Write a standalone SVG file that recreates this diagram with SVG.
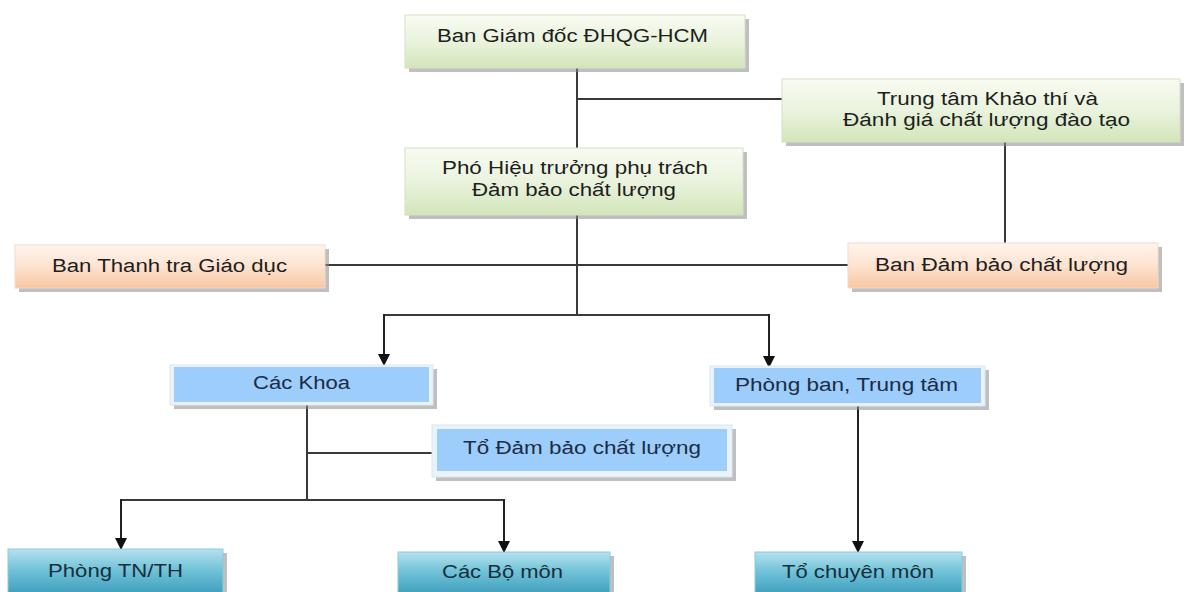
<svg xmlns="http://www.w3.org/2000/svg" width="1184" height="592" viewBox="0 0 1184 592">
<defs>
<linearGradient id="gGreen" x1="0" y1="0" x2="0" y2="1">
<stop offset="0" stop-color="#f8fbf2"/><stop offset="0.5" stop-color="#eaf3dd"/><stop offset="1" stop-color="#d3e5ba"/>
</linearGradient>
<linearGradient id="gOrange" x1="0" y1="0" x2="0" y2="1">
<stop offset="0" stop-color="#fff4ec"/><stop offset="0.5" stop-color="#fde3d0"/><stop offset="1" stop-color="#f7c6a3"/>
</linearGradient>
<linearGradient id="gTeal" x1="0" y1="0" x2="0" y2="1">
<stop offset="0" stop-color="#b5e2ee"/><stop offset="0.45" stop-color="#72c3d9"/><stop offset="1" stop-color="#3f9fbd"/>
</linearGradient>
<marker id="arr" viewBox="0 0 12 12" refX="11" refY="6" markerWidth="12" markerHeight="12" markerUnits="userSpaceOnUse" orient="auto">
<path d="M0,0 L12,6 L0,12 Z" fill="#111"/>
</marker>
<style>
.sh{fill:#8a8a8a;opacity:0.55}
.green{fill:url(#gGreen);stroke:#d4e0c4;stroke-width:1}
.orange{fill:url(#gOrange);stroke:#f2dccb;stroke-width:1}
.bframe{fill:#eaf3fb;stroke:#d8e6f2;stroke-width:1}
.blue{fill:#9dcdfb}
.teal{fill:url(#gTeal);stroke:#8fcadb;stroke-width:1}
.t{font-family:"Liberation Sans",Arial,sans-serif;font-size:18px;fill:#1e1e1e}
.tb{font-family:"Liberation Sans",Arial,sans-serif;font-size:18px;fill:#1c2c44}
.tt{font-family:"Liberation Sans",Arial,sans-serif;font-size:18px;fill:#17303c}
.ln{stroke:#3a3a3a;stroke-width:2;fill:none}
.la{stroke:#222;stroke-width:2;fill:none;marker-end:url(#arr)}
</style>
</defs>
<rect width="1184" height="592" fill="#ffffff"/>

<g id="connectors">
<line class="ln" x1="577" y1="68" x2="577" y2="148"/>
<line class="ln" x1="577" y1="99" x2="782" y2="99"/>
<line class="ln" x1="1005" y1="142" x2="1005" y2="243"/>
<line class="ln" x1="325" y1="265" x2="848" y2="265"/>
<line class="ln" x1="577" y1="215" x2="577" y2="315"/>
<polyline class="ln" points="384,315 769,315"/>
<line class="la" x1="384" y1="314" x2="384" y2="365"/>
<line class="la" x1="769" y1="314" x2="769" y2="367"/>
<line class="ln" x1="307" y1="405" x2="307" y2="500"/>
<line class="ln" x1="307" y1="453" x2="432" y2="453"/>
<polyline class="ln" points="121,500 504,500"/>
<line class="la" x1="121" y1="499" x2="121" y2="549"/>
<line class="la" x1="504" y1="499" x2="504" y2="552"/>
<line class="la" x1="858" y1="406" x2="858" y2="552"/>
</g>

<g id="ban-giam-doc">
<rect class="sh" x="409" y="19" width="340" height="53"/>
<rect class="green" x="405" y="15" width="340" height="53"/>
<text class="t" x="437" y="42" textLength="271" lengthAdjust="spacingAndGlyphs">Ban Giám đốc ĐHQG-HCM</text>
</g>

<g id="trung-tam-khao-thi">
<rect class="sh" x="786" y="83" width="398" height="63"/>
<rect class="green" x="782" y="79" width="398" height="63"/>
<text class="t" x="877" y="105" textLength="221" lengthAdjust="spacingAndGlyphs">Trung tâm Khảo thí và</text>
<text class="t" x="843" y="126" textLength="287" lengthAdjust="spacingAndGlyphs">Đánh giá chất lượng đào tạo</text>
</g>

<g id="pho-hieu-truong">
<rect class="sh" x="409" y="152" width="338" height="67"/>
<rect class="green" x="405" y="148" width="338" height="67"/>
<text class="t" x="442" y="174" textLength="266" lengthAdjust="spacingAndGlyphs">Phó Hiệu trưởng phụ trách</text>
<text class="t" x="472" y="196" textLength="204" lengthAdjust="spacingAndGlyphs">Đảm bảo chất lượng</text>
</g>

<g id="ban-thanh-tra">
<rect class="sh" x="19" y="249" width="310" height="43"/>
<rect class="orange" x="15" y="245" width="310" height="43"/>
<text class="t" x="52" y="272" textLength="235" lengthAdjust="spacingAndGlyphs">Ban Thanh tra Giáo dục</text>
</g>

<g id="ban-dam-bao">
<rect class="sh" x="852" y="247" width="310" height="45"/>
<rect class="orange" x="848" y="243" width="310" height="45"/>
<text class="t" x="875" y="271" textLength="253" lengthAdjust="spacingAndGlyphs">Ban Đảm bảo chất lượng</text>
</g>

<g id="cac-khoa">
<rect class="sh" x="174" y="369" width="263" height="40"/>
<rect class="bframe" x="170" y="365" width="263" height="40"/>
<rect class="blue" x="174" y="367" width="255" height="35"/>
<text class="tb" x="253" y="389" textLength="97" lengthAdjust="spacingAndGlyphs">Các Khoa</text>
</g>

<g id="phong-ban">
<rect class="sh" x="714" y="370" width="275" height="40"/>
<rect class="bframe" x="710" y="366" width="275" height="40"/>
<rect class="blue" x="714" y="368" width="267" height="35"/>
<text class="tb" x="735" y="391" textLength="223" lengthAdjust="spacingAndGlyphs">Phòng ban, Trung tâm</text>
</g>

<g id="to-dam-bao">
<rect class="sh" x="436" y="429" width="300" height="52"/>
<rect class="bframe" x="432" y="425" width="300" height="52"/>
<rect class="blue" x="437" y="429" width="290" height="42"/>
<text class="tb" x="463" y="454" textLength="238" lengthAdjust="spacingAndGlyphs">Tổ Đảm bảo chất lượng</text>
</g>

<g id="phong-tn-th">
<rect class="sh" x="12" y="553" width="215" height="43"/>
<rect class="teal" x="8" y="549" width="215" height="45"/>
<text class="tt" x="48" y="577" textLength="135" lengthAdjust="spacingAndGlyphs">Phòng TN/TH</text>
</g>

<g id="cac-bo-mon">
<rect class="sh" x="402" y="556" width="212" height="40"/>
<rect class="teal" x="398" y="552" width="212" height="42"/>
<text class="tt" x="442" y="578" textLength="121" lengthAdjust="spacingAndGlyphs">Các Bộ môn</text>
</g>

<g id="to-chuyen-mon">
<rect class="sh" x="759" y="556" width="207" height="40"/>
<rect class="teal" x="755" y="552" width="207" height="42"/>
<text class="tt" x="782" y="578" textLength="152" lengthAdjust="spacingAndGlyphs">Tổ chuyên môn</text>
</g>
</svg>
